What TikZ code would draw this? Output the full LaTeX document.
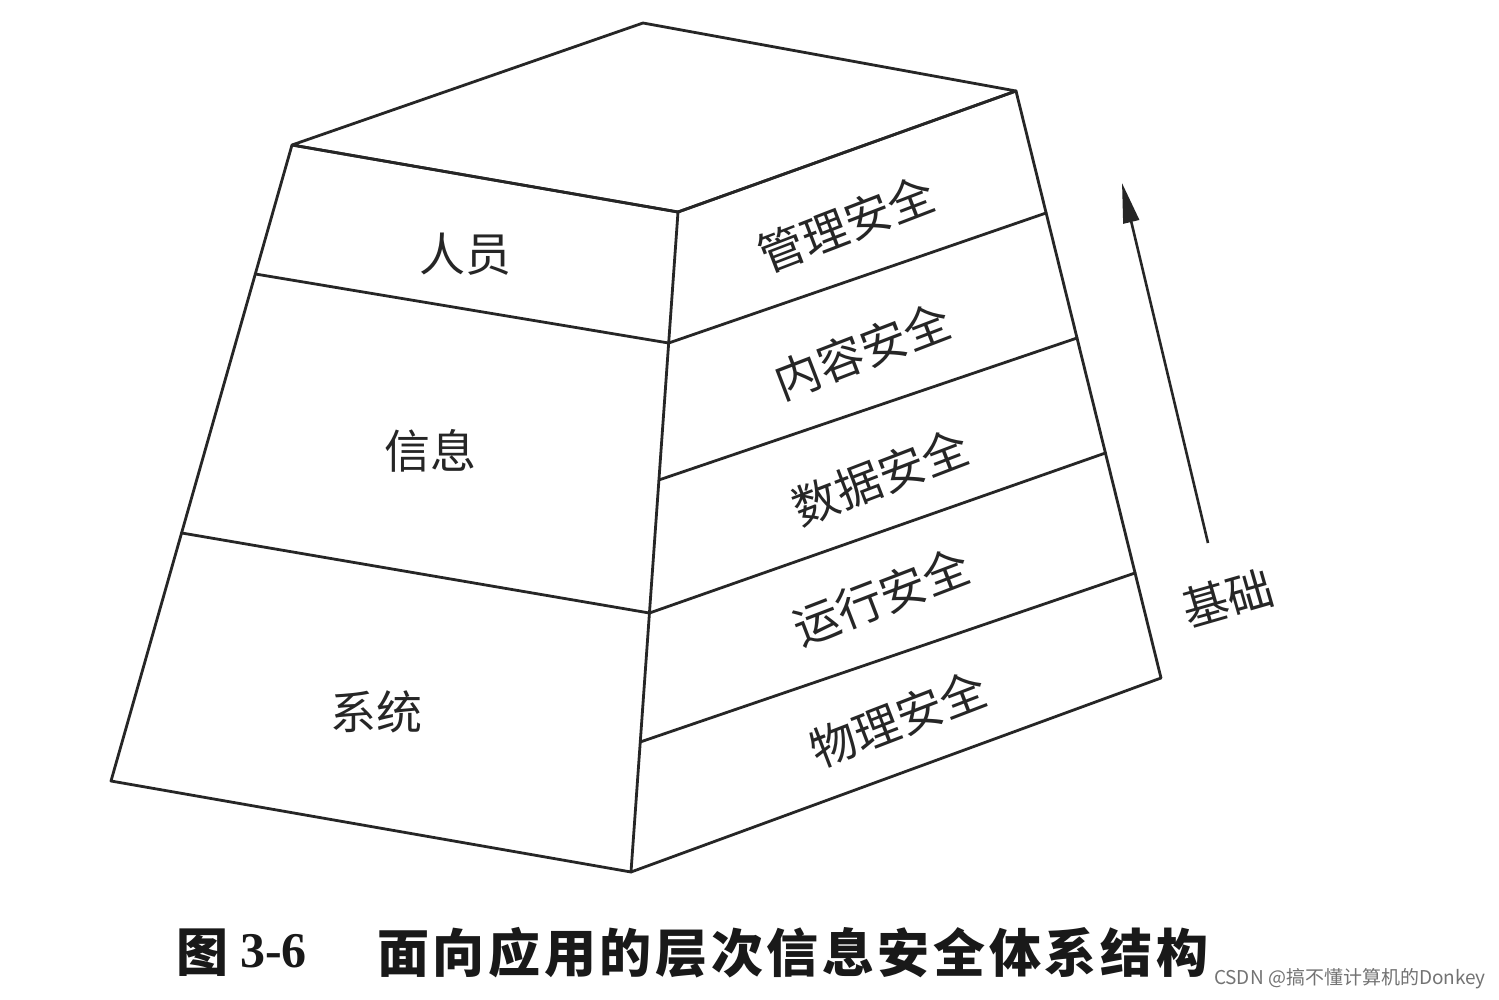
\documentclass[tikz,border=0pt]{standalone}
\usepackage{fontspec}
\newfontfamily\cjk{Noto Sans CJK SC}
\newfontfamily\capserif{Liberation Serif}
\usetikzlibrary{arrows.meta,calc}
\begin{document}
\begin{tikzpicture}[x=1pt,y=-1pt,
  edge/.style={line width=2.8pt, draw=black!85, line join=round, line cap=round},
  lab/.style={font=\cjk\fontsize{46}{46}\selectfont, text=black!85, inner sep=0pt},
  rlab/.style={lab, rotate=21},
  captext/.style={inner sep=0pt, anchor=west, text=black!90}]
\useasboundingbox (0,0) rectangle (1499,1000);
\fill[white] (0,0) rectangle (1499,1000);
% corners
\coordinate (TL) at (292,145);
\coordinate (TB) at (643,23);
\coordinate (TR) at (1016,91);
\coordinate (TF) at (678,212);
\coordinate (BL) at (111,781);
\coordinate (BF) at (631,872);
\coordinate (BR) at (1161,678);
% division points
\coordinate (L1) at ($(TL)!0.2028!(BL)$);
\coordinate (L2) at ($(TL)!0.610!(BL)$);
\coordinate (F1) at ($(TF)!0.1985!(BF)$);
\coordinate (F2) at ($(TF)!0.406!(BF)$);
\coordinate (F3) at ($(TF)!0.6076!(BF)$);
\coordinate (F4) at ($(TF)!0.803!(BF)$);
\coordinate (R1) at ($(TR)!0.2078!(BR)$);
\coordinate (R2) at ($(TR)!0.4208!(BR)$);
\coordinate (R3) at ($(TR)!0.6167!(BR)$);
\coordinate (R4) at ($(TR)!0.8211!(BR)$);
% faces
\draw[edge] (TL) -- (TB) -- (TR) -- (TF) -- cycle;
\draw[edge] (TL) -- (TF) -- (BF) -- (BL) -- cycle;
\draw[edge] (TF) -- (TR) -- (BR) -- (BF);
% dividers
\draw[edge] (L1) -- (F1);
\draw[edge] (L2) -- (F3);
\draw[edge] (F1) -- (R1);
\draw[edge] (F2) -- (R2);
\draw[edge] (F3) -- (R3);
\draw[edge] (F4) -- (R4);
% left labels
\node[lab] (renyuan) at (465,254) {人员};
\node[lab] (xinxi) at (430,451) {信息};
\node[lab] (xitong) at (376,712) {系统};
% right labels
\node[rlab] (guanli) at (846,224) {管理安全};
\node[rlab] (neirong) at (862,351) {内容安全};
\node[rlab] (shuju) at (880,477) {数据安全};
\node[rlab] (yunxing) at (881,597) {运行安全};
\node[rlab] (wuli) at (898,719) {物理安全};
% arrow
\coordinate (AT) at (1208,543);
\coordinate (AH) at (1122,183);
\draw[line width=2.6pt, draw=black!85, -{Triangle[length=40pt,width=16pt]}] (AT) -- (AH);
\node[lab, rotate=16] (jichu) at (1228,598) {基础};
% caption
\node[captext, font=\cjk\bfseries\fontsize{52}{52}\selectfont] (tu) at (176,953) {图};
\node[captext, font=\capserif\bfseries\fontsize{50}{50}\selectfont] (num) at (240,951) {3-6};
\node[captext, font=\cjk\bfseries\fontsize{52}{52}\selectfont\addfontfeature{LetterSpace=7}] (title) at (377,953) {面向应用的层次信息安全体系结构};
% watermark
\node[inner sep=0pt, anchor=east, text=black!55, font=\cjk\fontsize{19}{19}\selectfont] (wm) at (1486,979) {CSDN @搞不懂计算机的Donkey};
\end{tikzpicture}
\end{document}
